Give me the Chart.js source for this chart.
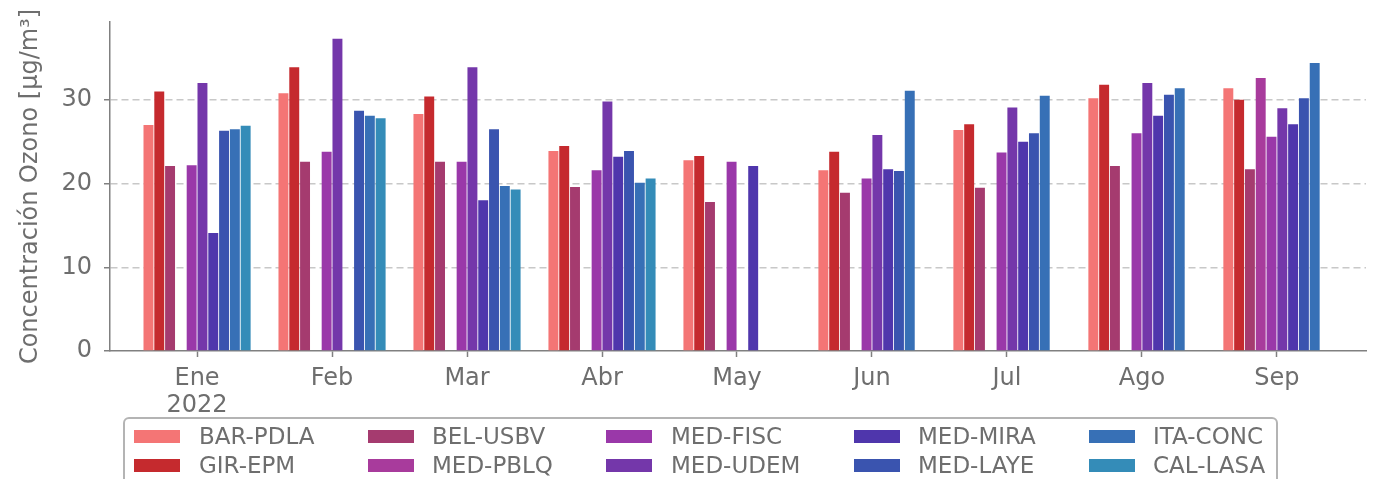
<!DOCTYPE html>
<html>
<head>
<meta charset="utf-8">
<script src="https://cdn.jsdelivr.net/npm/chart.js@4/dist/chart.umd.min.js"></script>
<style>
  body { margin: 0; background: #fff; font-family: "DejaVu Sans", sans-serif; }
  #wrap { position: relative; width: 1376px; height: 479px; overflow: hidden; }
  #legend {
    position: absolute; left: 123px; top: 417px; width: 1155px; height: 90px;
    border: 2px solid #b4b4b4; border-radius: 6px; box-sizing: border-box;
  }
  .item { position: absolute; height: 26px; }
  .sw { position: absolute; top: 7px; width: 46px; height: 13px; }
  .lb { position: absolute; top: 0; font-size: 23px; line-height: 26px; color: #6e6e6e; white-space: nowrap; }
</style>
</head>
<body>
<div id="wrap">
  <canvas id="myChart" width="1376" height="479"></canvas>
  <div id="legend"></div>
</div>
<script>
var months = ["Ene", "Feb", "Mar", "Abr", "May", "Jun", "Jul", "Ago", "Sep"];
var yearLabel = "2022";
var yTicks = [0, 10, 20, 30];

var barPdla = [27.0, 30.8, 28.3, 23.9, 22.8, 21.6, 26.4, 30.2, 31.4];
var girEpm  = [31.0, 33.9, 30.4, 24.5, 23.3, 23.8, 27.1, 31.8, 30.0];
var belUsbv = [22.1, 22.6, 22.6, 19.6, 17.8, 18.9, 19.5, 22.1, 21.7];
var medPblq = [null, null, null, null, null, null, null, null, 32.6];
var medFisc = [22.2, 23.8, 22.6, 21.6, 22.6, 20.6, 23.7, 26.0, 25.6];
var medUdem = [32.0, 37.3, 33.9, 29.8, null, 25.8, 29.1, 32.0, 29.0];
var medMira = [14.1, null, 18.0, 23.2, 22.1, 21.7, 25.0, 28.1, 27.1];
var medLaye = [26.3, 28.7, 26.5, 23.9, null, 21.5, 26.0, 30.6, 30.2];
var itaConc = [26.5, 28.1, 19.7, 20.1, null, 31.1, 30.5, 31.4, 34.4];
var calLasa = [26.9, 27.8, 19.3, 20.6, null, null, null, null, null];

var series = [
  { name: "BAR-PDLA", values: barPdla, color: "#f47575" },
  { name: "GIR-EPM", values: girEpm, color: "#c52a2e" },
  { name: "BEL-USBV", values: belUsbv, color: "#a53b6f" },
  { name: "MED-PBLQ", values: medPblq, color: "#a83b9c" },
  { name: "MED-FISC", values: medFisc, color: "#9a38a9" },
  { name: "MED-UDEM", values: medUdem, color: "#7437aa" },
  { name: "MED-MIRA", values: medMira, color: "#4f36ac" },
  { name: "MED-LAYE", values: medLaye, color: "#3a54af" },
  { name: "ITA-CONC", values: itaConc, color: "#3770b6" },
  { name: "CAL-LASA", values: calLasa, color: "#348cb8" }
];

var grey = "#6e6e6e";
var axisGrey = "#808080";

var datasets = series.map(function (s) {
  return {
    label: s.name,
    data: s.values.map(function (v, i) { return { x: i, y: v }; }),
    backgroundColor: s.color,
    categoryPercentage: 0.8,
    barPercentage: 0.92
  };
});

var ctx = document.getElementById("myChart").getContext("2d");
var chart = new Chart(ctx, {
  type: "bar",
  data: { datasets: datasets },
  options: {
    responsive: false,
    animation: false,
    layout: { padding: { left: 0, top: 22, right: 10, bottom: 0 } },
    plugins: { legend: { display: false }, tooltip: { enabled: false } },
    scales: {
      x: {
        type: "linear",
        offset: false,
        min: -0.645,
        max: 8.66,
        afterFit: function (scale) { scale.height = 128; },
        afterBuildTicks: function (scale) {
          scale.ticks = months.map(function (m, i) { return { value: i }; });
        },
        ticks: {
          autoSkip: false,
          maxRotation: 0,
          padding: 9,
          color: grey,
          font: { family: "DejaVu Sans", size: 24, lineHeight: 1.1 },
          callback: function (value) {
            if (value === 0) return [months[0], yearLabel];
            return months[value];
          }
        },
        grid: { offset: false, drawOnChartArea: false, drawTicks: true, tickLength: 6, tickColor: axisGrey, tickWidth: 1.5 },
        border: { display: true, color: axisGrey, width: 1.5 }
      },
      y: {
        min: 0,
        max: 39.3,
        afterFit: function (scale) {
          scale.width = 110;
          scale.paddingTop = 0;
          scale.paddingBottom = 0;
        },
        afterBuildTicks: function (scale) {
          scale.ticks = yTicks.map(function (v) { return { value: v }; });
        },
        ticks: {
          padding: 12,
          color: grey,
          font: { family: "DejaVu Sans", size: 24 }
        },
        grid: {
          color: function (c) { return c.tick && c.tick.value === 0 ? "rgba(0,0,0,0)" : "#c8c8c8"; },
          lineWidth: 1.5,
          tickLength: 6,
          tickColor: axisGrey,
          tickWidth: 1.5
        },
        border: { display: true, color: axisGrey, width: 1.5, dash: [7, 4] },
        title: {
          display: true,
          text: "Concentración Ozono [μg/m³]",
          color: grey,
          font: { family: "DejaVu Sans", size: 24 },
          padding: { top: 16, bottom: 0 }
        }
      }
    }
  }
});

// legend in matplotlib order: columns of two
var colX = [9, 243, 481, 729, 964];
var textOffset = [65, 64, 65, 64, 64];
var legendBox = document.getElementById("legend");
chart.data.datasets.forEach(function (ds, i) {
  var col = Math.floor(i / 2);
  var row = i % 2;
  var item = document.createElement("div");
  item.className = "item";
  item.style.left = colX[col] + "px";
  item.style.top = (4 + row * 29) + "px";
  var sw = document.createElement("div");
  sw.className = "sw";
  sw.style.left = "0px";
  sw.style.background = ds.backgroundColor;
  var lb = document.createElement("div");
  lb.className = "lb";
  lb.style.left = textOffset[col] + "px";
  lb.textContent = ds.label;
  item.appendChild(sw);
  item.appendChild(lb);
  legendBox.appendChild(item);
});
</script>
</body>
</html>
